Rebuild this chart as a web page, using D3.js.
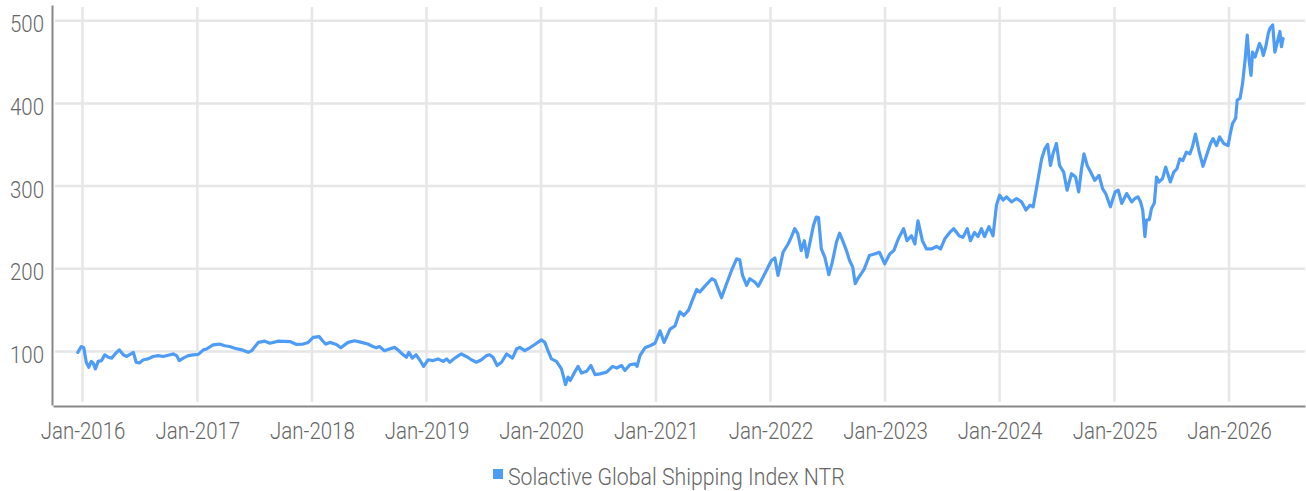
<!DOCTYPE html>
<html>
<head>
<meta charset="utf-8">
<script src="https://cdn.jsdelivr.net/npm/d3@7"></script>
<style>
  html, body { margin: 0; padding: 0; background: #ffffff; }
  svg { display: block; }
  text { font-family: Roboto, "Noto Sans", sans-serif; font-weight: 300; fill: #666666; }
</style>
</head>
<body>
<svg id="chart" width="1306" height="491"></svg>
<script>
// ---------- data ----------
const seriesName = "Solactive Global Shipping Index NTR";
const yTicks = [100, 200, 300, 400, 500];
const xTickYears = [2016, 2017, 2018, 2019, 2020, 2021, 2022, 2023, 2024, 2025, 2026];
const dates = [
"2015-12-17","2015-12-28","2016-01-05","2016-01-13","2016-01-21","2016-01-29","2016-02-04","2016-02-11","2016-02-20","2016-03-02",
"2016-03-12","2016-03-23","2016-04-03","2016-04-14","2016-04-27","2016-05-10","2016-05-21","2016-06-03","2016-06-11","2016-06-20",
"2016-06-30","2016-07-13","2016-07-28","2016-08-13","2016-08-29","2016-09-14","2016-09-30","2016-10-16","2016-10-27","2016-11-04",
"2016-11-17","2016-12-03","2016-12-19","2017-01-04","2017-01-20","2017-01-30","2017-02-20","2017-03-13","2017-03-29","2017-04-14",
"2017-04-30","2017-05-22","2017-06-12","2017-06-23","2017-07-14","2017-08-04","2017-08-20","2017-09-16","2017-10-23","2017-11-13",
"2017-12-04","2017-12-20","2018-01-05","2018-01-24","2018-02-04","2018-02-14","2018-02-27","2018-03-20","2018-04-03","2018-04-26",
"2018-05-17","2018-06-08","2018-06-28","2018-07-14","2018-07-25","2018-08-04","2018-08-20","2018-09-05","2018-09-21","2018-10-02",
"2018-10-16","2018-10-29","2018-11-06","2018-11-17","2018-11-29","2018-12-10","2018-12-23","2019-01-06","2019-01-22","2019-02-07",
"2019-02-23","2019-03-06","2019-03-16","2019-04-01","2019-04-22","2019-05-08","2019-05-24","2019-06-09","2019-06-25","2019-07-11",
"2019-07-21","2019-08-01","2019-08-14","2019-08-28","2019-09-13","2019-10-02","2019-10-15","2019-10-25","2019-11-10","2019-11-26",
"2019-12-12","2020-01-02","2020-01-13","2020-01-23","2020-02-03","2020-02-19","2020-03-06","2020-03-19","2020-03-27","2020-04-03",
"2020-04-17","2020-04-28","2020-05-09","2020-05-25","2020-06-08","2020-06-21","2020-07-06","2020-07-28","2020-08-16","2020-08-29",
"2020-09-14","2020-09-24","2020-10-10","2020-10-26","2020-11-02","2020-11-11","2020-11-27","2020-12-13","2020-12-29","2021-01-14",
"2021-01-27","2021-02-15","2021-03-03","2021-03-18","2021-03-31","2021-04-15","2021-04-25","2021-05-11","2021-05-21","2021-06-06",
"2021-06-28","2021-07-08","2021-07-18","2021-07-29","2021-08-14","2021-08-30","2021-09-15","2021-09-25","2021-10-04","2021-10-17",
"2021-10-27","2021-11-12","2021-11-23","2021-12-03","2021-12-19","2022-01-04","2022-01-15","2022-01-25","2022-02-10","2022-02-26",
"2022-03-08","2022-03-19","2022-03-29","2022-04-09","2022-04-19","2022-04-27","2022-05-08","2022-05-18","2022-05-27","2022-06-03",
"2022-06-12","2022-06-23","2022-07-06","2022-07-17","2022-07-30","2022-08-09","2022-08-19","2022-08-31","2022-09-10","2022-09-20",
"2022-09-28","2022-10-06","2022-10-17","2022-10-27","2022-11-12","2022-11-28","2022-12-14","2022-12-31","2023-01-16","2023-01-29",
"2023-02-12","2023-03-01","2023-03-12","2023-03-26","2023-04-06","2023-04-16","2023-04-30","2023-05-13","2023-05-29","2023-06-14",
"2023-06-27","2023-07-10","2023-07-26","2023-08-08","2023-08-25","2023-09-06","2023-09-20","2023-09-30","2023-10-13","2023-10-24",
"2023-11-04","2023-11-14","2023-11-28","2023-12-11","2023-12-22","2024-01-01","2024-01-12","2024-01-23","2024-02-08","2024-02-24",
"2024-03-11","2024-03-25","2024-04-07","2024-04-17","2024-04-30","2024-05-14","2024-05-24","2024-06-02","2024-06-11","2024-06-19",
"2024-06-30","2024-07-10","2024-07-23","2024-08-03","2024-08-17","2024-08-30","2024-09-09","2024-09-18","2024-09-26","2024-10-06",
"2024-10-17","2024-10-30","2024-11-13","2024-11-24","2024-12-04","2024-12-19","2025-01-03","2025-01-13","2025-01-24","2025-02-09",
"2025-02-25","2025-03-07","2025-03-17","2025-03-25","2025-04-01","2025-04-08","2025-04-13","2025-04-22","2025-04-29","2025-05-08",
"2025-05-15","2025-05-23","2025-06-03","2025-06-13","2025-06-28","2025-07-09","2025-07-19","2025-07-28","2025-08-07","2025-08-18",
"2025-08-29","2025-09-06","2025-09-16","2025-09-27","2025-10-10","2025-10-23","2025-11-03","2025-11-11","2025-11-22","2025-12-02",
"2025-12-15","2025-12-29","2026-01-04","2026-01-12","2026-01-22","2026-01-27","2026-02-05","2026-02-13","2026-02-21","2026-02-28",
"2026-03-06","2026-03-12","2026-03-17","2026-03-25","2026-03-30","2026-04-08","2026-04-15","2026-04-20","2026-04-28","2026-05-06",
"2026-05-11","2026-05-20","2026-05-27","2026-06-03","2026-06-12","2026-06-17","2026-06-22"
];
const values = [
99,106,104.5,87,81,88,86,79,88,89,
96,93,92,97,102,96,94,97,99,87,
86,90,91,94,95,94,95.5,97,95,89,
92,95,96,96.5,102,103,108,109,107,106,
104,102,99,101,111,112.5,110,112.5,112,108.5,
109,111,117,118,113,109,111,108.5,104.5,111,
113,111,109,106,104.5,106,101,103,105,102,
97,93,99,92,96,90,82,90,89,91,
88,91,87,92,97,94,90,87,90,95,
96,93,83,87,97,92,103,105,101,104.5,
108.5,114,111,101,91,88,79,60,69,65,
75,82,74,76,83,72,73,75,82,80,
83,77,84,85,82,95,104.5,107,110,125,
111,127,131,148,143.5,150,160,175,172,179,
188,186,176,165,182,198,212,211,192,180,
188,184,179,186,198,210,213,192,220,230,
238,248.5,242.5,222,234,214,234,252.5,262.5,262,
224,214,193,208,232,243,234,222,210,202,
182,188,194,200,216,218,220,206,218,222,
236,248.5,234,240,230,258,234,224,224,227,
224,236,244,248.5,240,238,248.5,234,244,239,
248.5,239,251,240,277,289,283,287,281,285,
281,271,277,275,303,333,345,350.5,325,339,
351.5,325,317,295,315,311,293,321,339,325,
317,307,313,297,291,275,293,295,279,291,
281,285,287,281,271,239,259,259.5,273,279.5,
311,305,309,323,305,317,321,333,331,341,
339,347,363,343,324,339,351.5,357.5,349,359.5,
351.5,349,361.5,375.5,382,404,406,424,452,482.5,
452,434,462,456,462,472.5,466.5,458,468.5,484.5,
490.5,495,462,472.5,487,468.5,478.5
];

// ---------- chart ----------
const parse = d3.timeParse("%Y-%m-%d");
const data = dates.map((d, i) => ({ date: parse(d), value: values[i] }));

const svg = d3.select("#chart");
const lineColor = "#4f9cf6";
const gridColor = "#e6e6e6";
const axisColor = "#878787";
const fontSize = 23.5, squeeze = 0.87, legendSqueeze = 0.905;

const x = d3.scaleTime()
  .domain([parse("2015-09-29"), parse("2026-08-31")])
  .range([53, 1305]);
const y = d3.scaleLinear()
  .domain([35.3, 519])
  .range([405, 5]);

const yearDates = xTickYears.map(yr => new Date(yr, 0, 1));

// gridlines
const grid = svg.append("g");
grid.selectAll("line.h").data(yTicks).join("line")
  .attr("class", "h")
  .attr("x1", 55).attr("x2", 1305)
  .attr("y1", d => y(d)).attr("y2", d => y(d))
  .attr("stroke", gridColor).attr("stroke-width", 2.5);
grid.selectAll("line.v").data(yearDates).join("line")
  .attr("class", "v")
  .attr("x1", d => x(d)).attr("x2", d => x(d))
  .attr("y1", 7).attr("y2", 402)
  .attr("stroke", gridColor).attr("stroke-width", 2.5);

// axes
const yAxis = d3.axisLeft(y).tickValues(yTicks).tickSize(0).tickPadding(8).tickFormat(d3.format("d"));
const gy = svg.append("g").attr("transform", "translate(52,0)").call(yAxis);
gy.select(".domain").attr("stroke", axisColor).attr("stroke-width", 2);
gy.selectAll(".tick text")
  .attr("font-size", fontSize).attr("dy", null).attr("x", 0).attr("y", 11)
  .attr("text-anchor", "end")
  .attr("transform", `translate(-8,0) scale(${squeeze},1)`)
  .style("font-family", "Roboto, sans-serif").style("font-weight", 300).style("fill", "#666");

const xAxis = d3.axisBottom(x).tickValues(yearDates).tickSize(0).tickFormat(d3.timeFormat("%b-%Y"));
const gx = svg.append("g").attr("transform", "translate(0,406)").call(xAxis);
gx.select(".domain").attr("stroke", axisColor).attr("stroke-width", 2);
gx.selectAll(".tick text")
  .attr("font-size", fontSize).attr("dy", null).attr("y", 33.3)
  .attr("transform", `scale(${squeeze},1)`)
  .style("font-family", "Roboto, sans-serif").style("font-weight", 300).style("fill", "#666");

// series line
const line = d3.line().x(d => x(d.date)).y(d => y(d.value));
svg.append("path").datum(data)
  .attr("d", line)
  .attr("fill", "none")
  .attr("stroke", lineColor)
  .attr("stroke-width", 3.2)
  .attr("stroke-linejoin", "round")
  .attr("stroke-linecap", "round");

// legend
const lg = svg.append("g").attr("transform", "translate(493,469)");
lg.append("rect").attr("width", 10).attr("height", 10).attr("fill", lineColor);
lg.append("text")
  .attr("transform", `translate(15,16) scale(${legendSqueeze},1)`)
  .attr("font-size", fontSize)
  .text(seriesName);
</script>
</body>
</html>
